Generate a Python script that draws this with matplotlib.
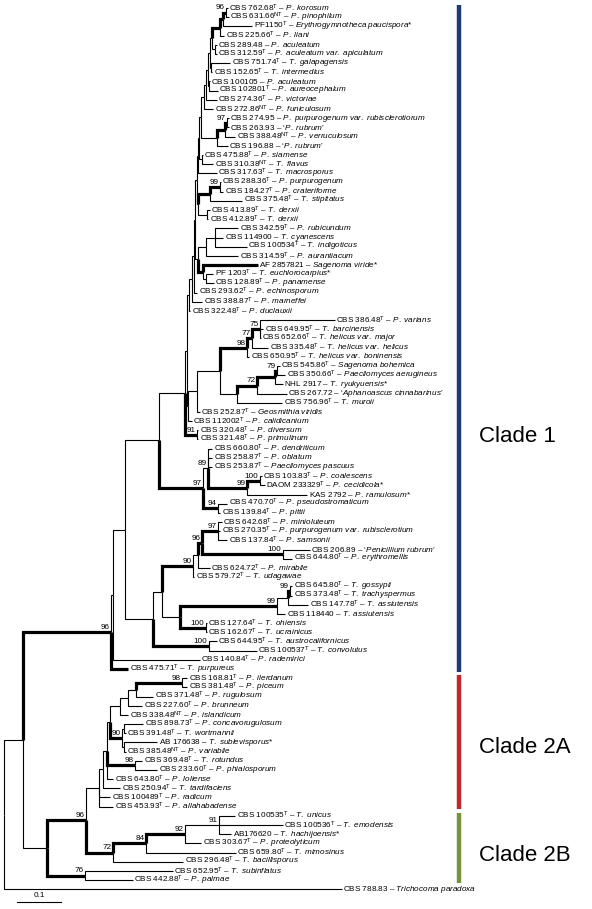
import re
import matplotlib
matplotlib.use("Agg")
import matplotlib.pyplot as plt

plt.rcParams['font.family'] = ['Liberation Sans', 'DejaVu Sans']
plt.rcParams['mathtext.fontset'] = 'custom'
plt.rcParams['mathtext.rm'] = 'Liberation Sans'
plt.rcParams['mathtext.it'] = 'Liberation Sans:italic'
plt.rcParams['mathtext.bf'] = 'Liberation Sans:bold'

# ---------------- data ----------------
STRAINS = ["CBS 762.68", "CBS 631.66", "PF1150", "CBS 225.66", "CBS 289.48", "CBS 312.59", "CBS 751.74",
           "CBS 152.65", "CBS 100105", "CBS 102801", "CBS 274.36", "CBS 272.86", "CBS 274.95", "CBS 263.93",
           "CBS 388.48", "CBS 196.88", "CBS 475.88", "CBS 310.38", "CBS 317.63", "CBS 288.36", "CBS 184.27",
           "CBS 375.48", "CBS 413.89", "CBS 412.89", "CBS 342.59", "CBS 114900", "CBS 100534", "CBS 314.59",
           "AF 2857821", "PF 1203", "CBS 128.89", "CBS 293.62", "CBS 388.87", "CBS 322.48",
           "CBS 386.48", "CBS 649.95", "CBS 652.66", "CBS 335.48", "CBS 650.95", "CBS 545.86", "CBS 350.66",
           "NHL 2917", "CBS 267.72", "CBS 756.96", "CBS 252.87", "CBS 112002", "CBS 320.48", "CBS 321.48",
           "CBS 660.80", "CBS 258.87", "CBS 253.87", "CBS 103.83", "DAOM 233329", "KAS 2792", "CBS 470.70",
           "CBS 139.84",
           "CBS 642.68", "CBS 270.35", "CBS 137.84", "CBS 206.89", "CBS 644.80", "CBS 624.72", "CBS 579.72",
           "CBS 645.80", "CBS 373.48", "CBS 147.78", "CBS 118440", "CBS 127.64", "CBS 162.67", "CBS 644.95",
           "CBS 100537", "CBS 140.84", "CBS 475.71",
           "CBS 168.81", "CBS 381.48", "CBS 371.48", "CBS 227.60", "CBS 338.48", "CBS 898.73", "CBS 391.48",
           "AB 176638", "CBS 385.48", "CBS 369.48", "CBS 233.60", "CBS 643.80", "CBS 250.94", "CBS 100489",
           "CBS 453.93",
           "CBS 100535", "CBS 100536", "AB176620", "CBS 303.67", "CBS 659.80", "CBS 296.48", "CBS 652.95",
           "CBS 442.88", "CBS 788.83"]

TYPE_MARKS = ["T", "NT", "T", "T", "", "T", "T", "T", "", "T", "T", "NT", "", "", "NT", "", "T", "NT", "T",
              "T", "T", "T", "T", "T", "T", "", "T", "T", "", "T", "T", "T", "T", "T",
              "T", "T", "T", "T", "T", "T", "T", "", "", "T", "T", "T", "T", "T",
              "T", "T", "T", "T", "T", "", "T", "T",
              "T", "T", "T", "", "T", "T", "T", "T", "T", "T", "", "T", "T", "T", "T", "T", "T",
              "T", "T", "T", "T", "NT", "T", "T", "", "NT", "T", "T", "T", "T", "T", "T",
              "T", "T", "", "T", "T", "T", "T", "T", ""]

TAXA = ["P. korosum", "P. pinophilum", "Erythrogymnotheca paucispora", "P. liani", "P. aculeatum",
        "P. aculeatum var. apiculatum", "T. galapagensis", "T. intermedius", "P. aculeatum", "P. aureocephalum",
        "P. victoriae", "P. funiculosum", "P. purpurogenum var. rubisclerotiorum", "\u2018P. rubrum\u2019",
        "P. verruculosum", "\u2018P. rubrum\u2019", "P. siamense", "T. flavus", "T. macrosporus",
        "P. purpurogenum", "P. crateriforme", "T. stipitatus", "T. derxii", "T. derxii", "P. rubicundum",
        "T. cyanescens", "T. indigoticus", "P. aurantiacum", "Sagenoma viride", "T. euchlorocarpius",
        "P. panamense", "P. echinosporum", "P. marneffei", "P. duclauxii",
        "P. varians", "T. barcinensis", "T. helicus var. major", "T. helicus var. helicus",
        "T. helicus var. boninensis", "Sagenoma bohemica", "Paecilomyces aerugineus", "T. ryukyuensis",
        "\u2018Aphanoascus cinnabarinus\u2019", "T. muroii", "Geosmithia viridis", "P. calidicanium",
        "P. diversum", "P. primulinum",
        "P. dendriticum", "P. oblatum", "Paecilomyces pascuus", "P. coalescens", "P. cecidicola",
        "P. ramulosum", "P. pseudostromaticum", "P. pittii",
        "P. minioluteum", "P. purpurogenum var. rubisclerotium", "P. samsonii", "\u2018Penicillium rubrum\u2019",
        "P. erythromellis", "P. mirabile", "T. udagawae", "T. gossypii", "T. trachyspermus", "T. assiutensis",
        "T. assiutensis", "T. ohiensis", "T. ucrainicus", "T. austrocalifornicus", "T. convolutus",
        "P. rademirici", "T. purpureus",
        "P. ilerdanum", "P. piceum", "P. rugulosum", "P. brunneum", "P. islandicum", "P. concavorugulosum",
        "T. wortmannii", "T. sublevisporus", "P. variabile", "T. rotundus", "P. phialosporum", "P. loliense",
        "T. tardifaciens", "P. radicum", "P. allahabadense",
        "T. unicus", "T. emodensis", "T. hachijoensis", "P. proteolyticum", "T. mimosinus",
        "T. bacillisporus", "T. subinflatus", "P. palmae", "Trichocoma paradoxa"]

STARRED = [2, 28, 29, 41, 52, 53, 80, 90]

# Sub-trees in Newick-like notation: leaf index / support label, ':' node depth from the root
# (substitutions per site), '*' = bold (supported) branch.
SUB_T1 = ("((((((((0:0.509,1:0.511)96:0.505*,2:0.564):0.498*,3:0.500):0.491*,(4:0.484,5:0.484):0.480):0.473,"
          "(6:0.514,7:0.473):0.470):0.468,(8:0.468,9:0.486):0.466):0.464,10:0.484):0.459,11:0.475):0.455")
SUB_U4 = ("((({T1},(((12:0.511,13:0.511)97:0.507*,14:0.525):0.502*,15:0.509):0.484):0.448,"
          "(16:0.452,17:0.475):0.450):0.444,18:0.484):0.442")
SUB_SD = "(((19:0.493,20:0.498)99:0.491*,21:0.541):0.468*,(22:0.468,23:0.464):0.461):0.441"
SUB_X = ("(((24:0.532,25:0.498,26:0.552):0.480,27:0.532):0.459,"
         "(28:0.577*,(29:0.475,30:0.477):0.459):0.452*):0.441")
SUB_U0 = "((((({U4},{SD}):0.438,{X}):0.434,31:0.439):0.432,32:0.450):0.427,33:0.423):0.420"
SUB_H = ("((((34:0.752,35:0.589,36:0.584)75:0.582*,37:0.600)77:0.564*,38:0.557)98:0.552*,"
         "((((39:0.627,40:0.639)79:0.620*,41:0.634):0.616*,42:0.643)72:0.575*,43:0.632):0.530):0.491")
SUB_185 = "(({U0},(({H},44:0.445):0.439,45:0.427):0.418):0.415,(46:0.441,47:0.441)91:0.439*):0.411"
SUB_97 = ("((48:0.473,49:0.473,50:0.473,((51:0.586,52:0.593)100:0.582*,53:0.689)99:0.552*)89:0.464,"
          "(54:0.507,55:0.491)94:0.486*)97:0.452*")
SUB_90 = ("((((56:0.495,57:0.491,58:0.507)97:0.486*,(59:0.695,60:0.655)100:0.634*)96:0.450*,61:0.468):0.441,"
          "62:0.432)90:0.430*")
SUB_AO = "((((63:0.655,64:0.655)99:0.650*,65:0.691):0.645,66:0.639)99:0.620*,(67:0.461,68:0.461)100:0.459*):0.400"
SUB_C1 = ("(((({185},{N97}):0.352,(({N90},{AO}):0.359,(69:0.484,70:0.575)100:0.466*):0.339):0.275,"
          "71:0.445):0.248,72:0.282*)96:0.243*")
SUB_I = ("(((((73:0.416,74:0.416)98:0.405*,75:0.339):0.300,76:0.314):0.282,77:0.282):0.264,"
         "((78:0.316,79:0.277):0.273,(80:0.348,81:0.277):0.273)90:0.268*):0.241")
SUB_2A = "((({I},(82:0.314,83:0.348)98:0.298*,84:0.248):0.234,85:0.264):0.225,86:0.241,87:0.248):0.216"
SUB_2B = "((((88:0.525,89:0.634,90:0.516)91:0.489,91:0.448)92:0.411*,92:0.527)84:0.323*,93:0.407)72:0.248*"
SUB_ROOT = "(({C1},(({A2},{B2})96:0.186*,(94:0.384,95:0.293)76:0.184*):0.098):0.043,96:0.768):0"

CLADE_NAMES = ["Clade 1", "Clade 2A", "Clade 2B"]
CLADE_FIRST = [0, 73, 88]
CLADE_LAST = [72, 87, 95]
CLADE_COLORS = ["#1f3b73", "#c1272d", "#76923c"]
SCALE_LENGTH = 0.1

# ---------------- build tree ----------------
u4 = SUB_U4.format(T1=SUB_T1)
u0 = SUB_U0.format(U4=u4, SD=SUB_SD, X=SUB_X)
n185 = SUB_185.format(U0=u0, H=SUB_H)
c1 = SUB_C1.replace("{185}", n185).replace("{N97}", SUB_97).replace("{N90}", SUB_90).replace("{AO}", SUB_AO)
a2 = SUB_2A.format(I=SUB_I)
tree_str = SUB_ROOT.format(C1=c1, A2=a2, B2=SUB_2B)
tree_str = re.sub(r"\s", "", tree_str)

pos = 0


def parse():
    global pos
    if tree_str[pos] == "(":
        pos += 1
        kids = [parse()]
        while tree_str[pos] == ",":
            pos += 1
            kids.append(parse())
        assert tree_str[pos] == ")"
        pos += 1
        m = re.match(r"(\d*):([0-9.]+)(\*?)", tree_str[pos:])
        pos += m.end()
        return {"kids": kids, "sup": m.group(1), "d": float(m.group(2)), "bold": m.group(3) == "*"}
    m = re.match(r"(\d+):([0-9.]+)(\*?)", tree_str[pos:])
    pos += m.end()
    return {"leaf": int(m.group(1)), "d": float(m.group(2)), "bold": m.group(3) == "*"}


root = parse()


def set_y(n):
    if "leaf" in n:
        n["y"] = n["leaf"]
    else:
        for k in n["kids"]:
            set_y(k)
        n["y"] = (n["kids"][0]["y"] + n["kids"][-1]["y"]) / 2.0


set_y(root)

# ---------------- draw ----------------
fig = plt.figure(figsize=(5.92, 9.09), dpi=100)
ax = fig.add_axes([0, 0, 1, 1])
PX = 1 / 440.0
ax.set_xlim(-4 * PX, 588 * PX)
ax.set_ylim((909 - 8) / 9.18, -8 / 9.18)
ax.axis("off")

FS = 5.9
THIN, BOLD = 0.8, 2.3


def leaf_label(i):
    s = STRAINS[i]
    if TYPE_MARKS[i]:
        s += r"$^{\mathrm{" + TYPE_MARKS[i] + "}}$"
    s += " \u2013 "
    name = TAXA[i]
    pre = post = ""
    if name.startswith("\u2018"):
        pre, name = "\u2018", name[1:]
    if name.endswith("\u2019"):
        post, name = "\u2019", name[:-1]
    s += pre + r"$\mathit{" + name.replace(" ", r"\ ") + "}$" + post
    if i in STARRED:
        s += "*"
    return s


def draw(n):
    if "leaf" in n:
        ax.text(n["d"] + 1.5 * PX, n["y"], leaf_label(n["leaf"]), fontsize=FS, va="center", ha="left")
        return
    for k in n["kids"]:
        lw = BOLD if k["bold"] else THIN
        ax.plot([n["d"], n["d"], k["d"]], [n["y"], k["y"], k["y"]], color="black", lw=lw,
                solid_joinstyle="miter", solid_capstyle="butt")
        draw(k)
    if n["sup"]:
        ax.text(n["d"] - 1.5 * PX, n["y"] - 0.12, n["sup"], fontsize=FS, ha="right", va="bottom")


draw(root)

# clade bars
bar_x = 455 * PX
for name, a, b, col, ly in zip(CLADE_NAMES, CLADE_FIRST, CLADE_LAST, CLADE_COLORS, [46.7, 80.6, 92.3]):
    ax.plot([bar_x, bar_x], [a - 0.3, b + 0.3], color=col, lw=3.2, solid_capstyle="butt")
    ax.text(bar_x + 20 * PX, ly, name, fontsize=16, va="center", ha="left")

# scale bar
sb_y = (902 - 8) / 9.18
sb_x0 = 13 * PX
ax.plot([sb_x0, sb_x0 + SCALE_LENGTH], [sb_y, sb_y], color="black", lw=0.8)
ax.text(sb_x0 + SCALE_LENGTH / 2, sb_y - 0.3, "0.1", fontsize=FS, ha="center", va="bottom")

fig.savefig("out.png", dpi=100)
